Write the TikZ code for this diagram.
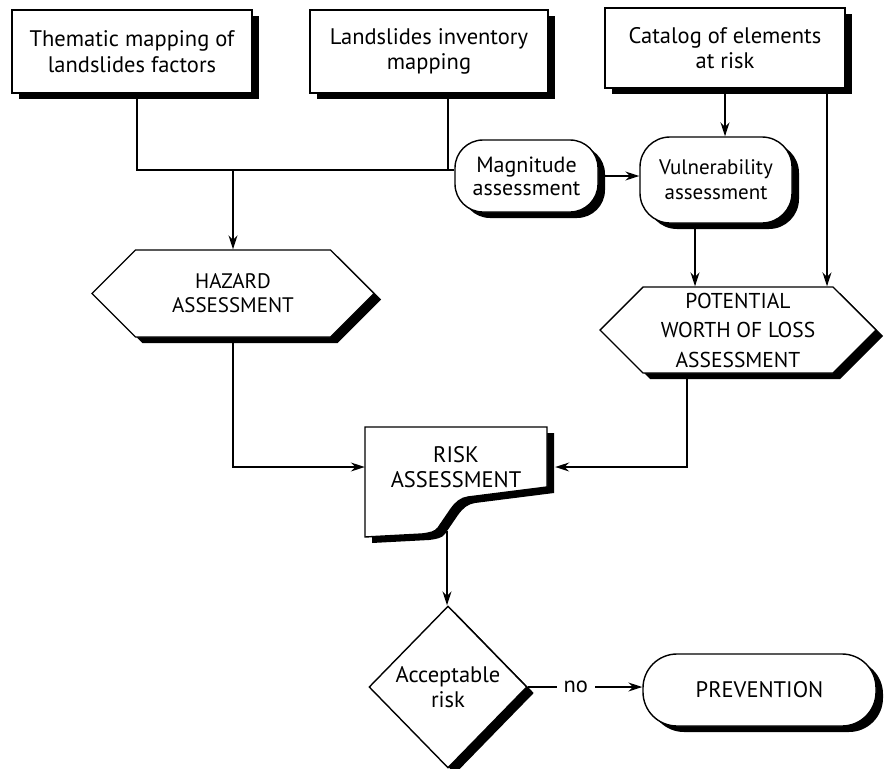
\documentclass[tikz,border=0pt]{standalone}
\usepackage{fontspec}
\setmainfont{PT Sans}
\usetikzlibrary{shapes.geometric,shapes.misc,shapes.symbols,shadows,arrows.meta,calc}
\begin{document}
\begin{tikzpicture}[x=1pt,y=-1pt,
  every node/.style={font=\fontsize{22.5}{25.5}\selectfont, align=center},
  shad/.style={drop shadow={shadow xshift=7pt,shadow yshift=-6pt,opacity=1,fill=black}},
  boxstyle/.style={rectangle, draw, line width=1.4pt, fill=white, shad, inner sep=0pt},
  termstyle/.style={rectangle, rounded corners=28pt, draw, line width=1.4pt, fill=white, shad, inner sep=0pt},
  hexstyle/.style={signal, signal to=west and east, signal pointer angle=90, draw, line width=1.4pt, fill=white, shad, inner sep=0pt},
  decstyle/.style={diamond, draw, line width=1.4pt, fill=white, shad, inner sep=0pt},
  conn/.style={line width=1.4pt},
  arr/.style={conn, -{Stealth[length=14pt,width=9pt]}},
]
\useasboundingbox (0,0) rectangle (888,768);

% top boxes
\node[boxstyle, minimum width=240pt, minimum height=83pt] (b1) at (132,51.5) {Thematic mapping of\\landslides factors};
\node[boxstyle, minimum width=238pt, minimum height=83pt] (b2) at (429,51.5) {Landslides inventory\\mapping};
\node[boxstyle, minimum width=240pt, minimum height=80pt] (b3) at (725,48) {Catalog of elements\\at risk};

% assessments
\node[termstyle, minimum width=143pt, minimum height=72pt, font=\fontsize{22}{23}\selectfont] (mag) at (526.5,176) {Magnitude\\assessment};
\node[termstyle, rounded corners=30pt, minimum width=152pt, minimum height=86pt, font=\fontsize{21}{25}\selectfont] (vul) at (716,180) {Vulnerability\\assessment};

\node[hexstyle, minimum width=282pt, minimum height=87pt, font=\fontsize{21}{24}\selectfont] (haz) at (233,293.5) {HAZARD\\ASSESSMENT};
\node[hexstyle, minimum width=276pt, minimum height=86pt, font=\fontsize{21.5}{29.5}\selectfont] (pot) at (738,330) {POTENTIAL\\WORTH OF LOSS\\ASSESSMENT};

% risk assessment (document-like shape)
\fill[shift={(7,6)}] (365,427) -- (547,427) -- (547,487) -- (468,497)
  .. controls (461,498) and (456,502) .. (451,509) -- (438,528)
  .. controls (435,532) and (430,533) .. (422,534) -- (365,537) -- cycle;
\draw[line width=1.4pt, fill=white] (365,427) -- (547,427) -- (547,487) -- (468,497)
  .. controls (461,498) and (456,502) .. (451,509) -- (438,528)
  .. controls (435,532) and (430,533) .. (422,534) -- (365,537) -- cycle;
\node[minimum width=182pt, inner sep=0pt] (risk) at (456,467) {RISK\\ASSESSMENT};

% decision and prevention
\node[decstyle, minimum width=158pt, minimum height=162pt] (dia) at (448,687) {Acceptable\\risk};
\node[termstyle, rounded corners=34pt, minimum width=233pt, minimum height=72pt] (prev) at (759.5,690) {PREVENTION};

% helper coordinates
\coordinate (j) at (233,170);
\coordinate (b1o) at ([xshift=5pt]b1.south);
\coordinate (b2o) at ([xshift=19pt]b2.south);
\coordinate (b3o) at ([xshift=102pt]b3.south);
\coordinate (vulo) at ([xshift=-21pt]vul.south);
\coordinate (poto) at ([xshift=-51pt]pot.south);
\coordinate (rb) at (447,531);

% connectors
\draw[conn] (b1o) -- (b1o |- j) -- (mag.west |- j);
\draw[conn] (b2o) -- (b2o |- j);
\draw[arr] (j) -- (haz.north);
\draw[arr] (mag.east) -- (mag.east -| vul.west);
\draw[arr] (b3.south) -- (b3.south |- vul.north);
\draw[arr] (b3o) -- (b3o |- pot.north);
\draw[arr] (vulo) -- (vulo |- pot.north);
\draw[arr] (haz.south) |- (risk.west);
\draw[arr] (poto) |- ([xshift=8pt]risk.east);
\draw[arr] (rb) -- (rb |- dia.north);
\draw[arr] (dia.east) -- node[pos=0.42, fill=white, inner xsep=7pt, inner ysep=2pt] {no} (dia.east -| prev.west);
\end{tikzpicture}
\end{document}
